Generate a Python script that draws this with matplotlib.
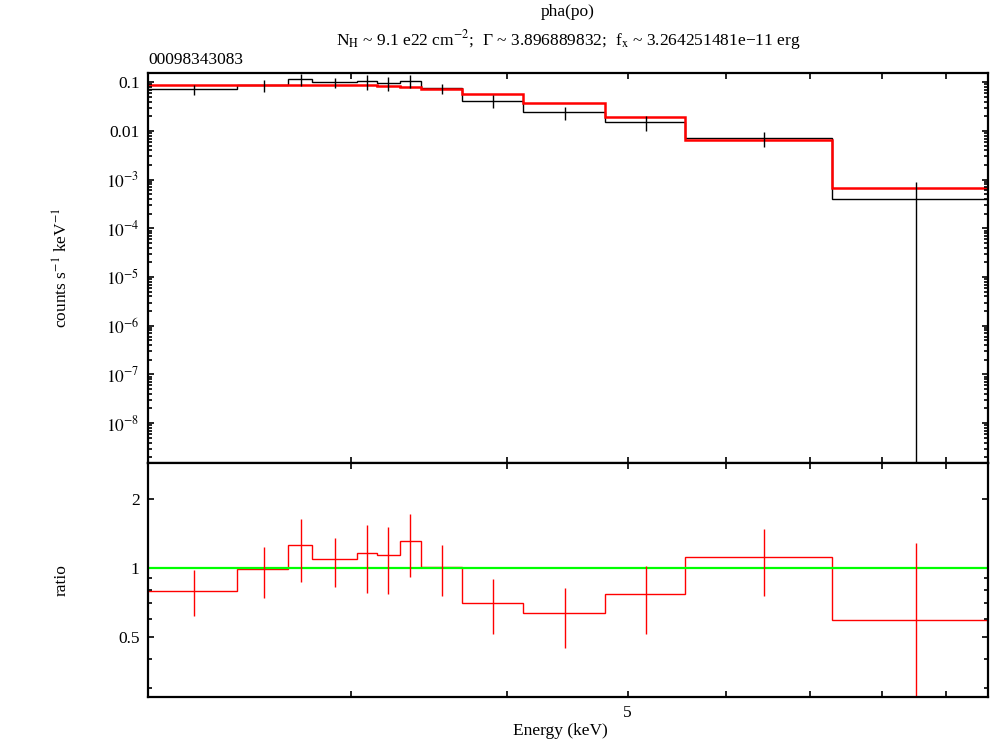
import numpy as np
import matplotlib
matplotlib.use('Agg')
import matplotlib.pyplot as plt
from matplotlib.ticker import FixedLocator, FixedFormatter, NullLocator, NullFormatter, LogLocator

plt.rcParams['font.family'] = ['Liberation Serif', 'DejaVu Serif']
plt.rcParams['mathtext.fontset'] = 'stix'
plt.rcParams['font.size'] = 12.5

# energy bins (keV)
edges = [2.061, 2.429, 2.669, 2.790, 3.031, 3.146, 3.283, 3.412, 3.681,
         4.119, 4.793, 5.555, 7.290, 9.72]
centers = [2.244, 2.554, 2.734, 2.911, 3.089, 3.210, 3.344, 3.546, 3.896,
           4.452, 5.168, 6.429, 8.511]

# data and model, counts s^-1 keV^-1
counts = [0.0729, 0.087, 0.1152, 0.100, 0.1048, 0.0954, 0.1079, 0.0753,
          0.0419, 0.0242, 0.0151, 0.00708, 0.000396]
counts_err = [0.017, 0.023, 0.033, 0.024, 0.035, 0.030, 0.033, 0.018,
              0.012, 0.0071, 0.0049, 0.0023, 0.00048]
model = [0.088, 0.088, 0.088, 0.088, 0.088, 0.0839, 0.080, 0.0729,
         0.0575, 0.0371, 0.0194, 0.00644, 0.000686]

# data / model
ratio = [0.794, 0.987, 1.252, 1.088, 1.156, 1.133, 1.307, 1.004,
         0.703, 0.632, 0.765, 1.114, 0.590]
ratio_err = [0.18, 0.247, 0.385, 0.26, 0.377, 0.365, 0.40, 0.255,
             0.19, 0.185, 0.253, 0.365, 0.69]

x_ticks = [3, 4, 5, 6, 7, 8, 9]
x_labels = ['', '', '5', '', '', '', '']
top_major = [1e-1, 1e-2, 1e-3, 1e-4, 1e-5, 1e-6, 1e-7, 1e-8]
top_labels = ['0.1', '0.01', '$10^{-3}$', '$10^{-4}$', '$10^{-5}$',
              '$10^{-6}$', '$10^{-7}$', '$10^{-8}$']
ratio_major = [0.5, 1, 2]
ratio_labels = ['0.5', '1', '2']
ratio_minor = [0.3, 0.4, 0.6, 0.7, 0.8, 0.9]

W, H = 990, 742
fig = plt.figure(figsize=(W / 100, H / 100), dpi=100)
left, right = 148 / W, 987.5 / W
ax1 = fig.add_axes([left, 1 - 463 / H, right - left, (463 - 73) / H])
ax2 = fig.add_axes([left, 1 - 697 / H, right - left, (697 - 463) / H])

for ax in (ax1, ax2):
    ax.set_xscale('log')
    ax.set_yscale('log')
    ax.set_xlim(edges[0], edges[-1])
    ax.xaxis.set_major_locator(FixedLocator(x_ticks))
    ax.xaxis.set_minor_locator(NullLocator())
    ax.tick_params(which='both', direction='in', top=True, right=True,
                   width=1.2, colors='black')
    ax.tick_params(which='major', length=4.5, pad=6)
    ax.tick_params(which='minor', length=2.8)
    for s in ax.spines.values():
        s.set_linewidth(1.6)

# top panel: spectrum
ax1.stairs(counts, edges, baseline=None, color='black', lw=1.0)
c = np.array(counts)
ce = np.array(counts_err)
ax1.vlines(centers, np.clip(c - ce, 1e-14, None), c + ce, color='black', lw=1.0)
ax1.stairs(model, edges, baseline=None, color='#ff0000', lw=1.8)
ax1.set_ylim(0.155, 1.52e-9 * 1.0)
ax1.set_ylim(1.52e-9, 0.155)
ax1.yaxis.set_major_locator(FixedLocator(top_major))
ax1.yaxis.set_major_formatter(FixedFormatter(top_labels))
ax1.yaxis.set_minor_locator(LogLocator(base=10, subs=np.arange(2, 10), numticks=20))
ax1.yaxis.set_minor_formatter(NullFormatter())
ax1.xaxis.set_major_formatter(NullFormatter())

# bottom panel: ratio
r = np.array(ratio)
re = np.array(ratio_err)
ax2.axhline(1, color='#00ff00', lw=1.6)
ax2.stairs(ratio, edges, baseline=None, color='#ff0000', lw=1.0)
ax2.vlines(centers, np.clip(r - re, 1e-6, None), r + re, color='#ff0000', lw=1.0)
ax2.set_ylim(0.273, 2.862)
ax2.yaxis.set_major_locator(FixedLocator(ratio_major))
ax2.yaxis.set_major_formatter(FixedFormatter(ratio_labels))
ax2.yaxis.set_minor_locator(FixedLocator(ratio_minor))
ax2.yaxis.set_minor_formatter(NullFormatter())
ax2.xaxis.set_major_formatter(FixedFormatter(x_labels))

# labels and titles
fig.text(568 / W, 1 - 12 / H, 'pha(po)', ha='center', va='center')
fig.text(568 / W, 1 - 40 / H,
         r'N$_\mathrm{H}$ ~ 9.1 e22 cm$^{-2}$;  Γ ~ 3.896889832;  '
         r'f$_\mathrm{x}$ ~ 3.264251481e−11 erg', ha='center', va='center')
fig.text(148 / W, 1 - 60 / H, '00098343083', ha='left', va='center')
fig.text(62 / W, 1 - 268 / H, r'counts s$^{-1}$ keV$^{-1}$', rotation=90,
         ha='center', va='center')
fig.text(62 / W, 1 - 580 / H, 'ratio', rotation=90, ha='center', va='center')
fig.text(560 / W, 1 - 731 / H, 'Energy (keV)', ha='center', va='center')

fig.savefig('out.png', dpi=100)
